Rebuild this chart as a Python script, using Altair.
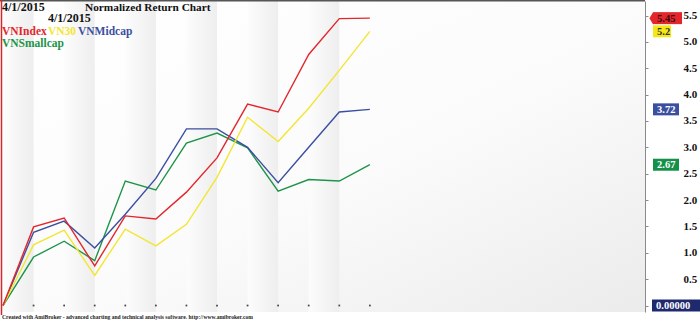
import altair as alt
import pandas as pd

# ---------------- data ----------------
idx = list(range(13))
vnindex = [0, 1.49, 1.66, 0.75, 1.70, 1.64, 2.15, 2.80, 3.82, 3.67, 4.76, 5.44, 5.45]
vn30 = [0, 1.15, 1.43, 0.57, 1.45, 1.13, 1.54, 2.43, 3.57, 3.11, 3.74, 4.46, 5.20]
vnmidcap = [0, 1.39, 1.60, 1.09, 1.73, 2.41, 3.35, 3.35, 3.00, 2.33, 3.00, 3.67, 3.72]
vnsmallcap = [0, 0.92, 1.22, 0.85, 2.36, 2.19, 3.08, 3.27, 2.99, 2.17, 2.39, 2.36, 2.67]

series_names = ["VNIndex", "VN30", "VNMidcap", "VNSmallcap"]
series_values = [vnindex, vn30, vnmidcap, vnsmallcap]
colors = ["#e3262c", "#f2e633", "#3b4fa0", "#1d9448"]

y_ticks = [0, 0.5, 1.0, 1.5, 2.0, 2.5, 3.0, 3.5, 4.0, 4.5, 5.0, 5.5]
band_starts = [0, 2, 4, 6, 8, 10]
band_ends = [1, 3, 5, 7, 9, 11]
date_label = "4/1/2015"
chart_title = "Normalized Return Chart"
footer = "Created with AmiBroker - advanced charting and technical analysis software. http://www.amibroker.com"
zero_label = "0.00000"

# ---------------- layout ----------------
W, H = 643, 311
FONT = "Liberation Serif"
xs = alt.Scale(domain=[-0.033, 21.0], nice=False, zero=False)
ys = alt.Scale(domain=[-0.123, 5.775], nice=False, zero=False)

# the 0.0 label sits under the 0.00000 value box in the original, so it is left blank
yaxis = alt.Axis(orient="right", values=y_ticks, format=".1f", grid=False,
                 domainColor="#8a8a8a", tickColor="#8a8a8a", tickSize=3,
                 labelFont=FONT, labelFontWeight="bold", labelFontSize=11,
                 labelColor="#111111", labelPadding=35, labelAlign="left",
                 labelBaseline="middle", labelExpr="datum.value == 0 ? '' : datum.label",
                 title=None)


def Y(field):
    return alt.Y(field, scale=ys, axis=yaxis)


def X(field):
    return alt.X(field, scale=xs, axis=None)


rows = []
for name, vals in zip(series_names, series_values):
    for i, v in zip(idx, vals):
        rows.append({"idx": i, "value": v, "series": name})
long_df = pd.DataFrame(rows)

one = pd.DataFrame({"a": [0]})

grid = alt.Chart(pd.DataFrame({"g": y_ticks})).mark_rule(color="#e4e4e4", strokeWidth=1).encode(
    y=Y("g:Q"))

bg = alt.Chart(one).mark_rect(
    fill={"gradient": "linear", "x1": 0, "y1": 0, "x2": 1, "y2": 1,
          "stops": [{"offset": 0, "color": "#ffffff"}, {"offset": 0.55, "color": "#fbfbfb"},
                    {"offset": 1, "color": "#ebebeb"}]}
).encode(x=alt.value(0), x2=alt.value(W), y=alt.value(0), y2=alt.value(H))

bands = alt.Chart(pd.DataFrame({"s": band_starts, "e": band_ends})).mark_rect(
    fill={"gradient": "linear", "x1": 0, "y1": 0, "x2": 1, "y2": 0,
          "stops": [{"offset": 0, "color": "#fcfcfc"}, {"offset": 1, "color": "#eeeeee"}]}
).encode(x=X("s:Q"), x2="e:Q", y=alt.value(0), y2=alt.value(H))

dots = alt.Chart(pd.DataFrame({"i": idx[1:]})).mark_square(size=3, color="#444444", opacity=1).encode(
    x=X("i:Q"), y=alt.datum(0, scale=ys, axis=yaxis))

top_border = alt.Chart(one).mark_rule(color="#555555", strokeWidth=2).encode(
    x=alt.value(-2), x2=alt.value(W), y=alt.value(-0.5))
red_vline = alt.Chart(one).mark_rule(color="#d8262c", strokeWidth=1.5).encode(
    x=alt.value(-0.5), y=alt.value(-1), y2=alt.value(H + 3))

line_layers = []
for name, col in reversed(list(zip(series_names, colors))):
    line_layers.append(
        alt.Chart(long_df[long_df.series == name]).mark_line(strokeWidth=1.4, color=col).encode(
            x=X("idx:Q"), y=Y("value:Q")))


def txt(s, x, y, color="#111111", size=12):
    return alt.Chart(pd.DataFrame({"t": [s]})).mark_text(
        align="left", baseline="alphabetic", font=FONT, fontWeight="bold", fontSize=size, color=color
    ).encode(text="t:N", x=alt.value(x), y=alt.value(y))


texts = [
    txt(date_label, 0, 9.5),
    txt(chart_title, 83, 9.5, size=11.3),
    txt(date_label, 46, 21),
    txt(series_names[0], 0, 33.5, colors[0], 11.5),
    txt(series_names[1], 46, 33.5, colors[1], 11.5),
    txt(series_names[2], 76, 33.5, colors[2], 11.5),
    txt(series_names[3], 0, 46, colors[3], 11.5),
    txt(footer, 0, 318, "#222222", 5.6),
]

label_specs = [  # (value, text, fill, text color, box left, box right)
    (vnindex[-1], f"{vnindex[-1]:g}", colors[0], "#3a0a0a", 651, 680),
    (vn30[-1], f"{vn30[-1]:g}", "#f5e817", "#333333", 651, 669),
    (vnmidcap[-1], f"{vnmidcap[-1]:g}", colors[2], "#ffffff", 651, 677),
    (vnsmallcap[-1], f"{vnsmallcap[-1]:g}", "#149048", "#ffffff", 651, 677),
    (0, zero_label, "#1f2a6e", "#ffffff", 650, 705),
]
label_layers = []
for v, t, fill, tcol, x0, x1 in label_specs:
    d = pd.DataFrame({"v": [v], "t": [t]})
    label_layers.append(alt.Chart(d).mark_rect(fill=fill, yOffset=-6, y2Offset=6).encode(
        x=alt.value(x0), x2=alt.value(x1), y=Y("v:Q"), y2="v:Q"))
    label_layers.append(alt.Chart(d).mark_text(
        align="left", baseline="middle", font=FONT, fontWeight="bold", fontSize=10.5, color=tcol, dy=0.5
    ).encode(x=alt.value(x0 + 4), y=Y("v:Q"), text="t:N"))

arrow = alt.Chart(pd.DataFrame({"v": [vnindex[-1]]})).mark_point(
    shape="M -0.6 0 L 0 -1 L 0 1 Z", size=144, filled=True, fill=colors[0], opacity=1, strokeWidth=0
).encode(x=alt.value(651), y=Y("v:Q"))

chart = alt.layer(
    grid, bg, bands, dots, *line_layers, top_border, red_vline, *texts, *label_layers, arrow
).properties(
    width=W, height=H,
    autosize=alt.AutoSizeParams(type="none"),
    padding={"left": 2, "top": 1, "right": 55, "bottom": 10},
    background="#ffffff",
).configure_view(stroke=None)

chart.save("out.html", embed_options={"renderer": "svg", "actions": False})
